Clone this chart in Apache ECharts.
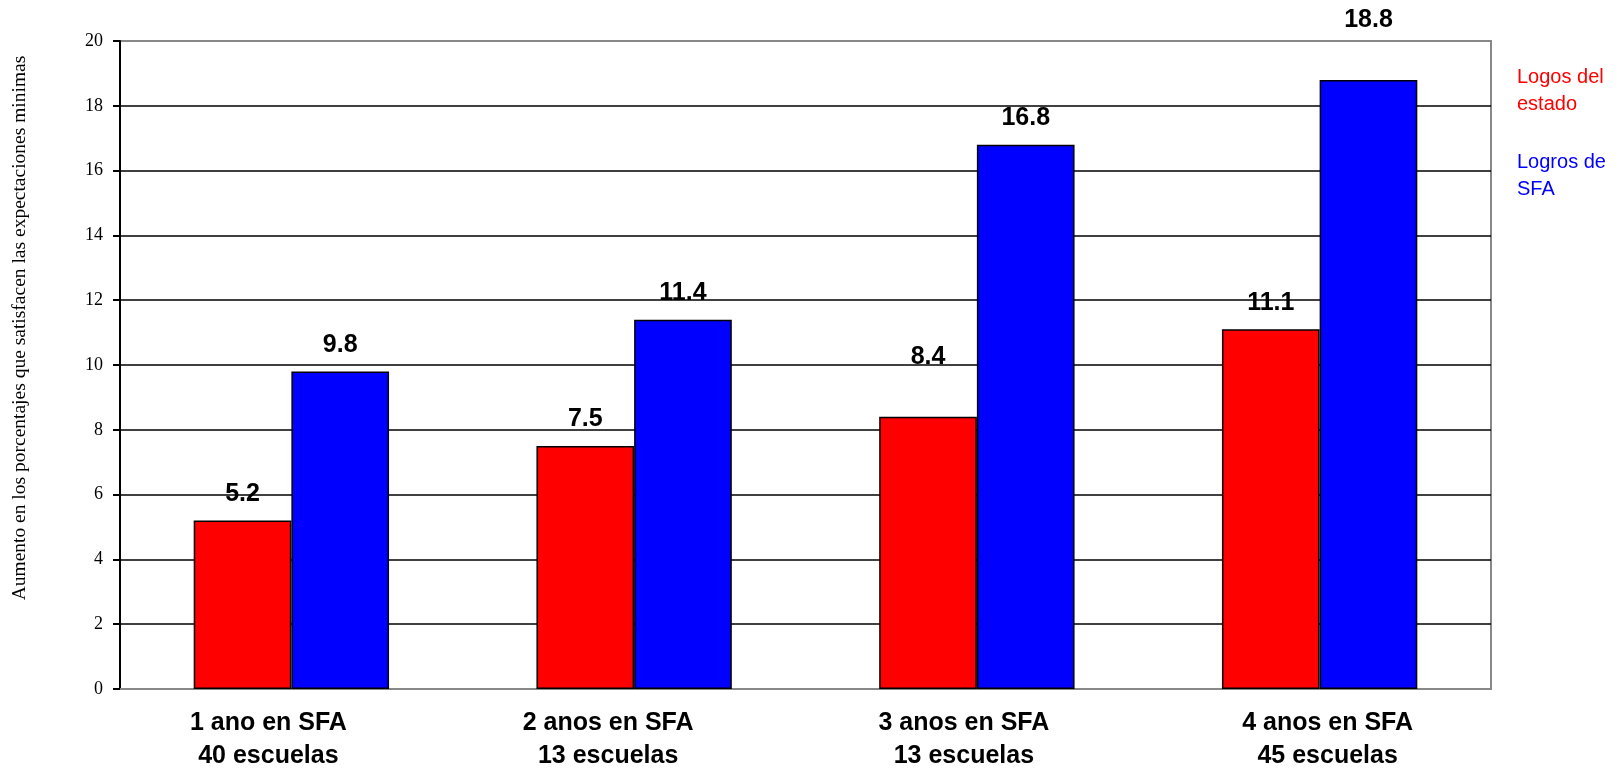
<!DOCTYPE html>
<html><head><meta charset="utf-8">
<script src="https://cdn.jsdelivr.net/npm/echarts@6/dist/echarts.min.js"></script>
<style>html,body{margin:0;padding:0;background:#fff}#c{width:1622px;height:771px}</style>
</head><body><div id="c"></div>
<script>
const categories = ['1 ano en SFA\n40 escuelas','2 anos en SFA\n13 escuelas','3 anos en SFA\n13 escuelas','4 anos en SFA\n45 escuelas'];
const seriesNames = ['Logos del\nestado','Logros de\nSFA'];
const estadoValues = [5.2, 7.5, 8.4, 11.1];
const sfaValues = [9.8, 11.4, 16.8, 18.8];
const yTicks = [0,2,4,6,8,10,12,14,16,18,20];
const yTitle = 'Aumento en los porcentajes que satisfacen las expectaciones minimas';
// indices of data labels that sit higher above their bar in the reference
const raisedEstado = [2];
const raisedSfa = [3];
// horizontal shift (px) of each category label relative to its group centre
const categoryLabelShift = [-23, -26, -13, 8];

const baseDist = 14, raisedDist = 47;
function buildData(vals, raised){
  return vals.map((v,i) => ({value:v, label:{distance: raised.includes(i) ? raisedDist : baseDist}}));
}
const catFont = {color:'#000', fontFamily:'Liberation Sans, Arial', fontWeight:'bold', fontSize:25, lineHeight:33};
const rich = {};
categoryLabelShift.forEach((s,i) => {
  rich['c'+i] = Object.assign({}, catFont, {padding: s < 0 ? [0, -2*s, 0, 0] : [0, 0, 0, 2*s]});
});

const chart = echarts.init(document.getElementById('c'), null, {renderer:'canvas'});
const labelCfg = {show:true, position:'top', distance:baseDist, color:'#000', fontFamily:'Liberation Sans, Arial', fontWeight:'bold', fontSize:25, formatter: p => p.value.toFixed(1)};
chart.setOption({
  animation:false,
  grid:{left:120, right:131, top:41, bottom:82, show:true, borderColor:'#888', borderWidth:2, backgroundColor:'transparent', containLabel:false, outerBoundsMode:'none'},
  legend:{
    orient:'vertical', left:1512, top:64, icon:'none', itemWidth:0, itemHeight:0, itemGap:31, padding:0,
    textStyle:{fontFamily:'Liberation Sans, Arial', fontSize:20, lineHeight:27},
    data:[{name:seriesNames[0], textStyle:{color:'#ff0000'}},{name:seriesNames[1], textStyle:{color:'#0000ff'}}],
    selectedMode:false
  },
  xAxis:{type:'category', data:categories,
    axisLine:{show:true, lineStyle:{color:'#888', width:2}}, axisTick:{show:false},
    axisLabel:Object.assign({}, catFont, {margin:18, rich:rich,
      formatter:(v,i) => v.split('\n').map(s => '{c'+i+'|'+s+'}').join('\n')})},
  yAxis:{type:'value', min:yTicks[0], max:yTicks[yTicks.length-1], interval:2,
    name:yTitle, nameLocation:'middle', nameGap:90, nameRotate:90,
    nameTextStyle:{color:'#000', fontFamily:'Liberation Serif, Times New Roman', fontSize:19.5, padding:[0,0,0,74]},
    axisLine:{show:true, lineStyle:{color:'#000', width:2}},
    axisTick:{show:true, length:7, lineStyle:{color:'#000', width:2}},
    axisLabel:{color:'#000', fontFamily:'Liberation Serif, Times New Roman', fontSize:18, margin:17},
    splitLine:{show:true, showMaxLine:false, lineStyle:{color:'#000', width:1.5}}},
  series:[
    {name:seriesNames[0], type:'bar', data:buildData(estadoValues, raisedEstado), barGap:'0%', barCategoryGap:'43%',
     itemStyle:{color:'#ff0000', borderColor:'#000', borderWidth:1.5}, label:labelCfg},
    {name:seriesNames[1], type:'bar', data:buildData(sfaValues, raisedSfa),
     itemStyle:{color:'#0000ff', borderColor:'#000', borderWidth:1.5}, label:labelCfg}
  ]
});
</script></body></html>
